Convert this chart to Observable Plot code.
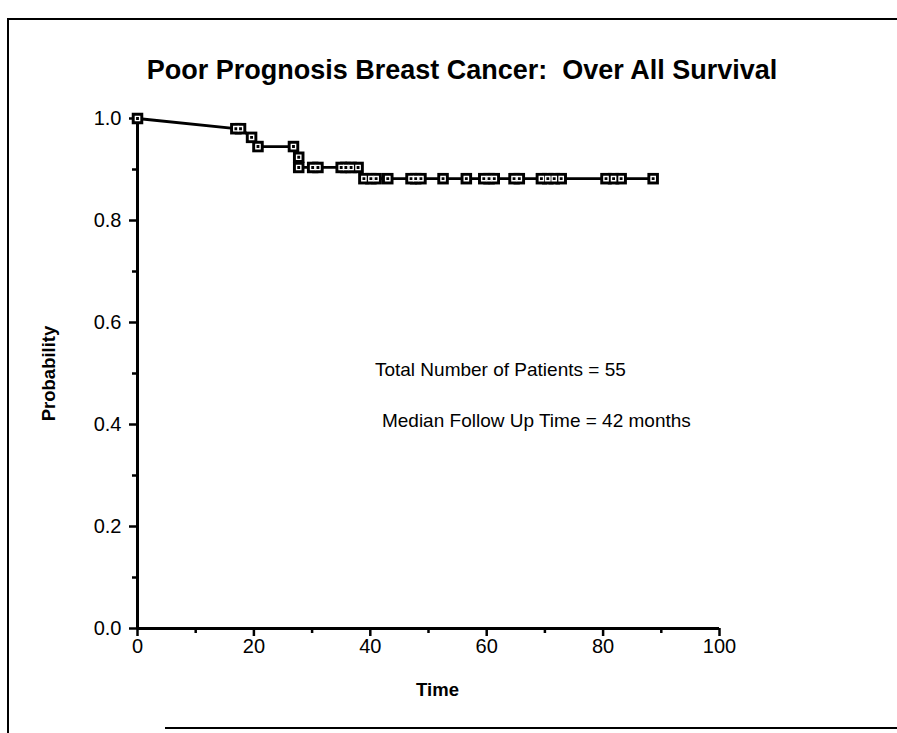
<!DOCTYPE html>
<html>
<head>
<meta charset="utf-8">
<script src="https://cdn.jsdelivr.net/npm/d3@7"></script>
<script src="https://cdn.jsdelivr.net/npm/@observablehq/plot@0.6"></script>
<style>
  html, body { margin: 0; padding: 0; background: #fff; }
  #wrap { position: relative; width: 897px; height: 733px; overflow: hidden; font-family: "Liberation Sans", Arial, Helvetica, sans-serif; color: #000; }
  #frame { position: absolute; left: 7px; top: 18px; width: 900px; height: 730px; border-left: 2px solid #000; border-top: 2px solid #000; }
  #bottomline { position: absolute; left: 165px; top: 727px; width: 740px; height: 0; border-top: 2px solid #000; }
  #title { position: absolute; left: 0; top: 55px; width: 924px; text-align: center; font-weight: bold; font-size: 27px; white-space: nowrap; }
  #chart { position: absolute; left: 0; top: 100px; }
</style>
</head>
<body>
<div id="wrap">
  <div id="frame"></div>
  <div id="bottomline"></div>
  <div id="title">Poor Prognosis Breast Cancer:&nbsp; Over All Survival</div>
  <div id="chart"></div>
</div>
<script>
// Survival curve points (time in months, probability)
const times = [0, 16.9, 17.7, 19.6, 20.7, 26.8, 27.7, 27.7, 30.1, 31.0, 35.0, 35.8, 36.7, 37.9,
  38.9, 40.1, 41.0, 43.0, 47.0, 47.8, 48.7, 52.5, 56.5, 59.5, 60.4, 61.3, 64.7, 65.6,
  69.4, 70.5, 71.6, 72.8, 80.5, 81.8, 83.1, 88.6];
const survival = [1.0, 0.98, 0.98, 0.963, 0.945, 0.945, 0.924, 0.904, 0.904, 0.904, 0.904, 0.904, 0.904, 0.904,
  0.882, 0.882, 0.882, 0.882, 0.882, 0.882, 0.882, 0.882, 0.882, 0.882, 0.882, 0.882, 0.882, 0.882,
  0.882, 0.882, 0.882, 0.882, 0.882, 0.882, 0.882, 0.882];
const xTicks = [0, 20, 40, 60, 80, 100];
const xMinorTicks = [10, 30, 50, 70, 90];
const yTicks = [0, 0.2, 0.4, 0.6, 0.8, 1.0];
const yMinorTicks = [0.1, 0.3, 0.5, 0.7, 0.9];
const noteLines = ["Total Number of Patients = 55", "Median Follow Up Time = 42 months"];

const data = times.map((t, i) => ({time: t, prob: survival[i]}));

const chart = Plot.plot({
  width: 897,
  height: 633,
  marginLeft: 137,
  marginRight: 178,
  marginTop: 18,
  marginBottom: 105,
  style: {fontFamily: "'Liberation Sans', Arial, Helvetica, sans-serif", fontSize: "20px", color: "#000", background: "transparent", overflow: "visible"},
  x: {domain: [0, 100]},
  y: {domain: [0, 1]},
  marks: [
    Plot.axisY({ticks: yMinorTicks, tickSize: 5, tickFormat: () => "", label: null, strokeWidth: 2.5}),
    Plot.axisY({ticks: yTicks, tickSize: 8, tickPadding: 8, tickFormat: d => d.toFixed(1), label: null, strokeWidth: 2.5, fontSize: 20}),
    Plot.axisX({ticks: xMinorTicks, tickSize: 5, tickFormat: () => "", label: null, strokeWidth: 2.5}),
    Plot.axisX({ticks: xTicks, tickSize: 8, tickPadding: 2, tickFormat: d => String(d), label: null, strokeWidth: 2.5, fontSize: 20}),
    Plot.ruleX([0], {strokeWidth: 3}),
    Plot.ruleY([0], {strokeWidth: 3}),
    Plot.line(data, {x: "time", y: "prob", stroke: "#000", strokeWidth: 2.8}),
    Plot.dot(data, {x: "time", y: "prob", symbol: "square", r: 6.5, fill: "#000", stroke: "none"}),
    Plot.dot(data, {x: "time", y: "prob", symbol: "square", r: 2.4, fill: "none", stroke: "#fff", strokeWidth: 1.4}),
    Plot.text([noteLines[0]], {x: 40.8, y: 0.508, text: d => d, textAnchor: "start", fontSize: 19}),
    Plot.text([noteLines[1]], {x: 42, y: 0.408, text: d => d, textAnchor: "start", fontSize: 19}),
    Plot.text(["Probability"], {frameAnchor: "left", dx: -88, rotate: -90, text: d => d, textAnchor: "middle", lineAnchor: "middle", fontWeight: "bold", fontSize: 18.5}),
    Plot.text(["Time"], {frameAnchor: "bottom", dx: 9, dy: 62, text: d => d, textAnchor: "middle", lineAnchor: "middle", fontWeight: "bold", fontSize: 18.5})
  ]
});
document.getElementById("chart").appendChild(chart);
</script>
</body>
</html>
